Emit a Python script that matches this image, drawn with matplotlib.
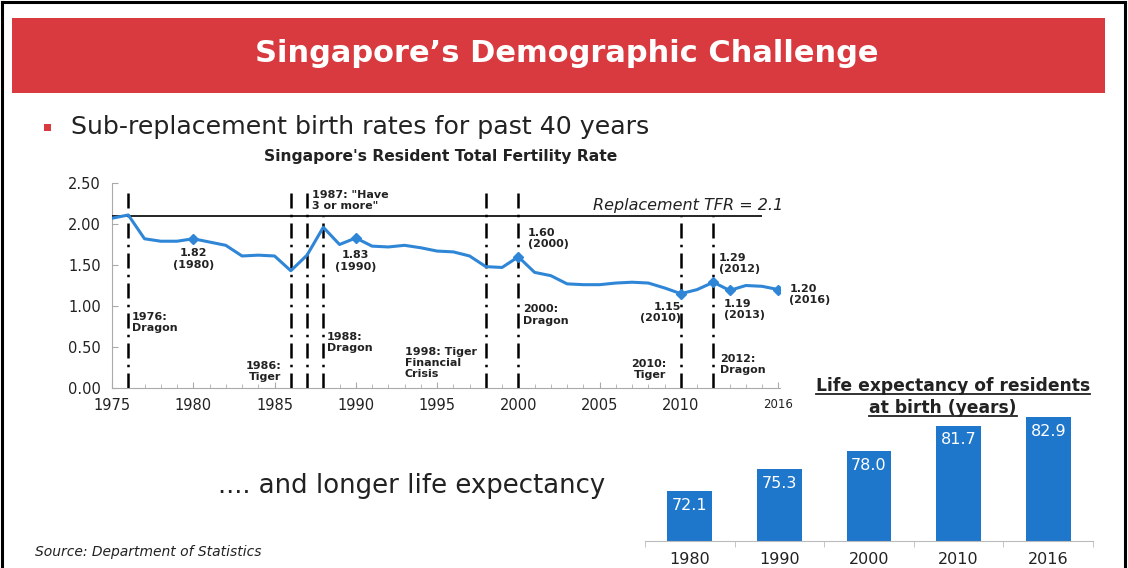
import matplotlib.pyplot as plt
from matplotlib.lines import Line2D
from matplotlib.patches import Rectangle

# fertility series (resident TFR)
YEARS = list(range(1975, 2017))
TFR = [2.07, 2.11, 1.82, 1.79, 1.79, 1.82, 1.78, 1.74, 1.61, 1.62,
       1.61, 1.43, 1.62, 1.96, 1.75, 1.83, 1.73, 1.72, 1.74, 1.71,
       1.67, 1.66, 1.61, 1.48, 1.47, 1.60, 1.41, 1.37, 1.27, 1.26,
       1.26, 1.28, 1.29, 1.28, 1.22, 1.15, 1.20, 1.29, 1.19, 1.25,
       1.24, 1.20]
MARKED_YEARS = [1980, 1990, 2000, 2010, 2012, 2013, 2016]
REPLACEMENT_TFR = 2.1

# event lines: year, starts at top of axes (True) or at replacement line
EVENT_YEARS = [1976, 1986, 1987, 1988, 1998, 2000, 2010, 2012]
EVENT_FULL = [True, True, True, False, True, True, False, False]

# life expectancy bars
LE_YEARS = ["1980", "1990", "2000", "2010", "2016"]
LE_VALUES = [72.1, 75.3, 78.0, 81.7, 82.9]

BLUE_LINE = "#2f86d6"
BLUE_BAR = "#1f77cc"
RED = "#d93a3f"
INK = "#222222"

plt.rcParams["font.family"] = ["DejaVu Sans"]

fig = plt.figure(figsize=(11.28, 5.68), dpi=100)
W, H = 1128, 568


def fx(px):
    return px / W


def fy(py):
    return 1 - py / H


# frame around the slide
for xs, ys in [((fx(2), fx(2)), (fy(566), fy(2))),
               ((fx(2), fx(1125)), (fy(2), fy(2))),
               ((fx(1125), fx(1125)), (fy(2), fy(566)))]:
    fig.add_artist(Line2D(xs, ys, color="black", lw=2.2))

# red banner
fig.add_artist(Rectangle((fx(12), fy(93)), fx(1105) - fx(12), fy(18) - fy(93),
                         transform=fig.transFigure, facecolor=RED, edgecolor="none"))
fig.text(fx(567), fy(53), "Singapore\u2019s Demographic Challenge", color="white",
         fontsize=22, fontweight="bold", ha="center", va="center")

# bullet
fig.add_artist(Rectangle((fx(44), fy(131)), fx(7), 7 / H, transform=fig.transFigure,
                         facecolor=RED, edgecolor="none"))
fig.text(fx(71), fy(127), "Sub-replacement birth rates for past 40 years",
         fontsize=18.2, ha="left", va="center", color=INK)
fig.text(fx(441), fy(157), "Singapore's Resident Total Fertility Rate",
         fontsize=11.2, fontweight="bold", ha="center", va="center", color=INK)

fig.text(fx(218), fy(486), ".... and longer life expectancy", fontsize=18.7,
         ha="left", va="center", color=INK)
fig.text(fx(35), fy(552), "Source: Department of Statistics", fontsize=10,
         style="italic", ha="left", va="center", color=INK)

# ---- line chart ----
ax = fig.add_axes([fx(112), fy(388), fx(780) - fx(112), (388 - 183) / H])
ax.set_xlim(1975, 2016.1)
ax.set_ylim(0, 2.5)
ax.plot(YEARS, TFR, color=BLUE_LINE, lw=2.2, zorder=4)
mx = [y for y in YEARS if y in MARKED_YEARS]
my = [TFR[YEARS.index(y)] for y in mx]
ax.plot(mx, my, linestyle="none", marker="D", ms=5, color=BLUE_LINE, zorder=5)

ax.hlines(REPLACEMENT_TFR, 1975, 2015, color="black", lw=1.2, zorder=3)
ax.text(2016.3, REPLACEMENT_TFR + 0.04, "Replacement TFR = 2.1", style="italic",
        fontsize=11.5, ha="right", va="bottom", color=INK)

for yr, full in zip(EVENT_YEARS, EVENT_FULL):
    top = 2.45 if full else REPLACEMENT_TFR
    ax.vlines(yr, 0, top, color="black", lw=1.8,
              linestyles=[(0, (6, 2.5, 1, 2.5))], zorder=3)

bold = dict(fontsize=8, fontweight="bold", color=INK, linespacing=1.15)


def point_label(year, dx, dy, ha):
    v = TFR[YEARS.index(year)]
    ax.annotate(f"{v:.2f}\n({year})", xy=(year, v), xytext=(dx, dy),
                textcoords="offset points", ha=ha, va="top", **bold)


point_label(1980, 0, -7, "center")
point_label(1990, 0, -9, "center")
point_label(2000, 7, 21, "left")
point_label(2010, 0, -6, "right")
point_label(2012, 4, 21, "left")
point_label(2013, -4, -6, "left")
point_label(2016, 8, 4, "left")

events = [
    (1976.2, 0.93, "1976:\nDragon", "left"),
    (1985.4, 0.33, "1986:\nTiger", "right"),
    (1987.3, 2.42, "1987: \"Have\n3 or more\"", "left"),
    (1988.2, 0.68, "1988:\nDragon", "left"),
    (1993.0, 0.50, "1998: Tiger\nFinancial\nCrisis", "left"),
    (2000.3, 1.02, "2000:\nDragon", "left"),
    (2009.1, 0.35, "2010:\nTiger", "right"),
    (2012.4, 0.42, "2012:\nDragon", "left"),
]
for x, y, s, ha in events:
    ax.text(x, y, s, ha=ha, va="top", **bold)

for side in ["top", "right"]:
    ax.spines[side].set_visible(False)
ax.spines["left"].set_color("#aaaaaa")
ax.spines["bottom"].set_color("#aaaaaa")
ax.set_yticks([0, 0.5, 1.0, 1.5, 2.0, 2.5])
ax.set_yticklabels([f"{v:.2f}" for v in [0, 0.5, 1.0, 1.5, 2.0, 2.5]])
xt = [1975, 1980, 1985, 1990, 1995, 2000, 2005, 2010, 2016]
ax.set_xticks(xt)
ax.set_xticklabels([str(t) for t in xt])
ax.set_xticks(YEARS, minor=True)
ax.tick_params(axis="both", labelsize=10.5, colors="#aaaaaa", labelcolor=INK,
               length=4, direction="in")
ax.tick_params(axis="y", pad=8)
ax.tick_params(axis="x", pad=7)
ax.tick_params(axis="x", which="minor", length=3, direction="in", colors="#aaaaaa")
ax.get_xticklabels()[-1].set_fontsize(8.5)
ax.patch.set_alpha(0)

# ---- bar chart ----
bx = fig.add_axes([fx(645), fy(541), fx(1093) - fx(645), (541 - 403) / H])
pos = list(range(len(LE_VALUES)))
bx.bar(pos, LE_VALUES, width=0.5, color=BLUE_BAR, zorder=2)
bx.set_xlim(-0.5, len(LE_VALUES) - 0.5)
bx.set_ylim(64.8, 85)
for p, v in zip(pos, LE_VALUES):
    bx.annotate(f"{v:.1f}", xy=(p, v), xytext=(0, -5), textcoords="offset points",
                ha="center", va="top", color="white", fontsize=11.5)
for side in ["top", "right", "left"]:
    bx.spines[side].set_visible(False)
bx.spines["bottom"].set_color("#bbbbbb")
bx.set_yticks([])
bx.set_xticks(pos)
bx.set_xticklabels(LE_YEARS)
bx.set_xticks([p - 0.5 for p in pos] + [pos[-1] + 0.5], minor=True)
bx.tick_params(axis="x", which="major", length=0, labelsize=11.5, pad=8,
               labelcolor=INK)
bx.tick_params(axis="x", which="minor", length=4, color="#bbbbbb")
bx.patch.set_alpha(0)

t1 = fig.text(fx(953), fy(386), "Life expectancy of residents", fontsize=12.3,
              fontweight="bold", ha="center", va="center", color=INK)
t2 = fig.text(fx(943), fy(408), "at birth (years)", fontsize=12.3,
              fontweight="bold", ha="center", va="center", color=INK)
renderer = fig.canvas.get_renderer()
for t in (t1, t2):
    bb = t.get_window_extent(renderer).transformed(fig.transFigure.inverted())
    fig.add_artist(Line2D([bb.x0, bb.x1], [bb.y0 + 0.001, bb.y0 + 0.001],
                          color=INK, lw=1.3))

fig.savefig("out.png", dpi=100)
